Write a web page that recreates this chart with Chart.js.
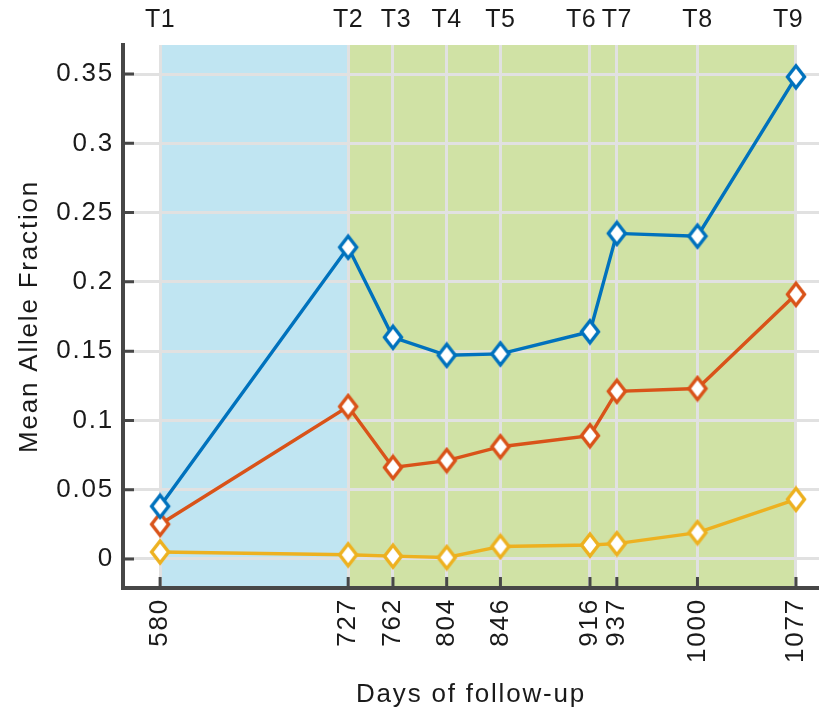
<!DOCTYPE html>
<html>
<head>
<meta charset="utf-8">
<script src="https://cdn.jsdelivr.net/npm/chart.js@4"></script>
<style>
  body { margin: 0; background: #fff; }
  #wrap { width: 819px; height: 714px; }
</style>
</head>
<body>
<div id="wrap"><canvas id="chart" width="819" height="714"></canvas></div>
<script>
// days of follow-up and their visit names
const days = [580, 727, 762, 804, 846, 916, 937, 1000, 1077];
const visits = ['T1', 'T2', 'T3', 'T4', 'T5', 'T6', 'T7', 'T8', 'T9'];

// mean allele fraction per series
const seriesBlue = [0.038, 0.225, 0.160, 0.147, 0.148, 0.164, 0.235, 0.233, 0.348];
const seriesRed = [0.025, 0.110, 0.066, 0.071, 0.081, 0.089, 0.121, 0.123, 0.191];
const seriesYellow = [0.005, 0.003, 0.002, 0.001, 0.009, 0.010, 0.011, 0.019, 0.043];

const yTicks = [0, 0.05, 0.1, 0.15, 0.2, 0.25, 0.3, 0.35];
const yTickLabels = ['0', '0.05', '0.1', '0.15', '0.2', '0.25', '0.3', '0.35'];

// shaded periods [from, to]
const periodBlue = [580, 727];
const periodGreen = [727, 1077];

const FONT = '"Liberation Sans", Arial, Helvetica, sans-serif';
const TEXT = '#1a1a1a';
const AXIS = '#474747';
const GRID = '#e1e1e1';

// a few visit labels are pushed left so T6/T7 don't collide
const visitNudge = { T3: 3, T6: -9, T9: -8 };

function diamond(color) {
  const c = document.createElement('canvas');
  c.width = 24; c.height = 28;
  const g = c.getContext('2d');
  g.beginPath();
  g.moveTo(12, 3);
  g.lineTo(20.5, 14);
  g.lineTo(12, 25);
  g.lineTo(3.5, 14);
  g.closePath();
  g.fillStyle = '#fff';
  g.fill();
  g.lineWidth = 3.4;
  g.strokeStyle = color;
  g.stroke();
  return c;
}

function series(data, color) {
  return {
    data: days.map((d, i) => ({ x: d, y: data[i] })),
    borderColor: color,
    borderWidth: 3.4,
    pointStyle: diamond(color),
    pointRadius: 12,
    pointHoverRadius: 12,
    tension: 0
  };
}

// the text in this figure is set with slightly open tracking
const tracking = {
  id: 'tracking',
  beforeUpdate(chart) { chart.ctx.letterSpacing = '1.8px'; },
  beforeDraw(chart) { chart.ctx.letterSpacing = '1.8px'; }
};

const shading = {
  id: 'shading',
  beforeDraw(chart) {
    const { ctx, chartArea, scales } = chart;
    const x = scales.x;
    ctx.save();
    [[periodBlue, '#c0e5f2'], [periodGreen, '#d0e2a5']].forEach(([p, col]) => {
      const a = x.getPixelForValue(p[0]);
      const b = x.getPixelForValue(p[1]);
      ctx.fillStyle = col;
      ctx.fillRect(a, chartArea.top, b - a, chartArea.bottom - chartArea.top);
    });
    ctx.restore();
  }
};

// short inward tick marks on both axes, plus the visit names along the top
const decorations = {
  id: 'decorations',
  afterDraw(chart) {
    const { ctx, chartArea, scales } = chart;
    ctx.save();
    ctx.strokeStyle = AXIS;
    ctx.lineWidth = 3;
    ctx.beginPath();
    yTicks.forEach(v => {
      const y = scales.y.getPixelForValue(v);
      ctx.moveTo(chartArea.left, y);
      ctx.lineTo(chartArea.left + 11, y);
    });
    days.forEach(v => {
      const x = scales.x.getPixelForValue(v);
      ctx.moveTo(x, chartArea.bottom);
      ctx.lineTo(x, chartArea.bottom - 11);
    });
    ctx.stroke();

    ctx.letterSpacing = '0.5px';
    ctx.font = '25px ' + FONT;
    ctx.fillStyle = TEXT;
    ctx.textAlign = 'center';
    ctx.textBaseline = 'middle';
    days.forEach((v, i) => {
      const x = scales.x.getPixelForValue(v) + (visitNudge[visits[i]] || 0);
      ctx.fillText(visits[i], x, chartArea.top - 25);
    });
    ctx.restore();
  }
};

const dayTicks = scale => { scale.ticks = days.map(v => ({ value: v })); };
const fixed = size => scale => {
  if (scale.isHorizontal()) scale.height = size; else scale.width = size;
  scale.paddingLeft = scale.paddingRight = scale.paddingTop = scale.paddingBottom = 0;
};

new Chart(document.getElementById('chart'), {
  type: 'line',
  data: {
    datasets: [
      series(seriesBlue, '#0072bd'),
      series(seriesRed, '#d95319'),
      series(seriesYellow, '#edb120')
    ]
  },
  options: {
    responsive: false,
    animation: false,
    clip: false,
    layout: { padding: { top: 45, left: 0, right: 0, bottom: 0 }, autoPadding: false },
    plugins: { legend: { display: false }, tooltip: { enabled: false } },
    scales: {
      x: {
        type: 'linear',
        position: 'bottom',
        min: 551,
        max: 1095,
        afterBuildTicks: dayTicks,
        afterFit: fixed(126),
        border: { color: AXIS, width: 4 },
        grid: { color: GRID, lineWidth: 3, drawTicks: false },
        ticks: {
          color: TEXT,
          font: { family: FONT, size: 26 },
          minRotation: 90,
          maxRotation: 90,
          padding: 10,
          autoSkip: false,
          callback: v => String(v)
        },
        title: {
          display: true,
          text: 'Days of follow-up',
          color: TEXT,
          font: { family: FONT, size: 26 },
          padding: { top: 0, bottom: 4 }
        }
      },
      y: {
        min: -0.021,
        max: 0.371,
        afterBuildTicks: s => { s.ticks = yTicks.map(v => ({ value: v })); },
        afterFit: fixed(123),
        border: { color: AXIS, width: 4 },
        grid: { color: GRID, lineWidth: 3, drawTicks: false },
        ticks: {
          color: TEXT,
          font: { family: FONT, size: 26 },
          padding: 9,
          callback: v => yTickLabels[yTicks.indexOf(v)]
        },
        title: {
          display: true,
          text: 'Mean Allele Fraction',
          color: TEXT,
          font: { family: FONT, size: 26 },
          padding: { top: 14, bottom: 0 }
        }
      }
    }
  },
  plugins: [tracking, shading, decorations]
});
</script>
</body>
</html>
